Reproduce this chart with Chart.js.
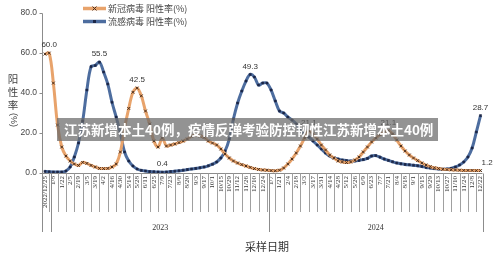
<!DOCTYPE html>
<html><head><meta charset="utf-8">
<script src="https://cdn.jsdelivr.net/npm/chart.js@4/dist/chart.umd.min.js"></script>
<style>html,body{margin:0;padding:0;background:#fff;}canvas{display:block;}</style>
</head><body>
<canvas id="c" width="500" height="260"></canvas>
<script>
// ---- data ----
const categories = ['2022/12/25','1/1','1/8','1/15','1/22','1/29','2/5','2/12','2/19','2/26','3/5','3/12','3/19','3/26','4/2','4/9','4/16','4/23','4/30','5/7','5/14','5/21','5/28','6/4','6/11','6/18','6/25','7/2','7/9','7/16','7/23','7/30','8/6','8/13','8/20','8/27','9/3','9/10','9/17','9/24','10/1','10/8','10/15','10/22','10/29','11/5','11/12','11/19','11/26','12/3','12/10','12/17','12/24','12/31','1/7','1/14','1/21','1/28','2/4','2/11','2/18','2/25','3/3','3/10','3/17','3/24','3/31','4/7','4/14','4/21','4/28','5/5','5/12','5/19','5/26','6/2','6/9','6/16','6/23','6/30','7/7','7/14','7/21','7/28','8/4','8/11','8/18','8/25','9/1','9/8','9/15','9/22','9/29','10/6','10/13','10/20','10/27','11/3','11/10','11/17','11/24','12/1','12/8','12/15','12/22'];
const yearNames = ['', '2023', '2024'];
const yearSpans = [2, 52, 51];
const covidRate = [59.5,60.0,45.0,24.0,13.0,8.5,6.0,4.5,3.8,5.3,4.8,3.8,3.0,2.3,2.2,2.3,3.0,4.5,10.5,22.5,32.3,40.4,42.5,38.6,31.0,24.5,16.0,13.0,17.5,13.5,14.0,14.5,15.2,16.0,17.0,18.4,19.0,18.5,17.8,16.0,15.0,14.0,12.0,9.5,7.5,6.0,5.0,4.2,3.5,2.8,2.2,1.8,1.5,1.4,1.2,1.1,1.4,2.5,4.5,7.0,10.0,13.5,17.5,21.1,19.5,17.0,14.0,11.5,9.0,7.5,6.0,5.5,5.2,5.5,6.5,8.0,10.5,13.0,15.5,17.5,19.2,20.5,21.1,19.5,16.5,13.5,11.0,9.0,7.5,6.2,5.0,4.0,3.2,2.6,2.2,1.9,1.7,1.6,1.5,1.4,1.3,1.3,1.3,1.2,1.2];
const fluRate = [0.8,0.6,0.5,0.5,0.5,1.0,3.0,8.0,15.0,26.0,41.5,53.2,53.8,55.5,50.5,44.5,35.4,28.0,20.0,10.5,6.0,3.5,2.0,1.3,1.0,0.7,0.6,0.5,0.4,0.5,0.7,0.9,1.1,1.4,1.7,2.0,2.3,2.6,3.0,3.6,4.4,5.5,7.5,11.0,17.0,27.0,35.0,41.0,46.0,49.3,48.0,44.0,45.0,45.0,41.5,36.0,31.0,30.0,28.0,26.5,24.5,21.0,19.5,18.0,16.0,14.0,12.0,10.0,8.5,7.5,7.0,6.5,6.2,6.0,6.0,6.3,6.7,7.3,8.5,8.7,7.9,7.0,6.3,5.6,5.0,4.6,4.3,4.1,3.9,3.6,3.3,2.8,2.5,2.2,2.0,1.9,2.0,2.3,3.0,4.0,5.5,8.0,12.5,20.5,28.7];
const yTicks = [0, 20, 40, 60, 80];
const seriesNames = ['新冠病毒 阳性率(%)', '流感病毒 阳性率(%)'];
// labelled points: [dataset, index, position]
const valueLabels = [[0,1,'top'],[1,13,'top'],[0,22,'top'],[1,28,'top'],[1,49,'top'],[0,63,'top'],[0,82,'top'],[1,104,'top'],[0,104,'right']];
const yTitle = ['阳','性','率'];
const xTitle = '采样日期';
const bannerText = '江苏新增本土40例，疫情反弹考验防控韧性江苏新增本土40例';

const ORANGE = '#e8a36b', BLUE = '#4d6d9f', OMARK = '#4a2e1c', BMARK = '#1c2747';

const overlay = {
  id: 'overlay',
  afterDatasetsDraw(chart) {
    const {ctx, scales: {x, y}} = chart;
    ctx.save();
    const ax = 42.5;
    const y0 = Math.round(y.getPixelForValue(0)) + 0.5;
    const yTop = Math.round(y.getPixelForValue(80)) + 0.5;
    ctx.strokeStyle = '#8c8c8c';
    ctx.lineWidth = 1;
    ctx.beginPath();
    ctx.moveTo(ax, yTop); ctx.lineTo(ax, 232);
    for (const v of yTicks) {
      const py = Math.round(y.getPixelForValue(v)) + 0.5;
      ctx.moveTo(ax - 3, py); ctx.lineTo(ax, py);
    }
    const xRight = x.getPixelForValue(categories.length - 1) + 2;
    ctx.moveTo(ax, y0); ctx.lineTo(xRight, y0);
    ctx.stroke();
    // label separators
    ctx.strokeStyle = '#a0a0a0';
    ctx.beginPath();
    for (let i = 1; i < categories.length; i += 2) {
      const px = Math.round(x.getPixelForValue(i)) + 0.5;
      ctx.moveTo(px, y0); ctx.lineTo(px, 212);
    }
    ctx.stroke();
    // year group separators + labels
    ctx.strokeStyle = '#8c8c8c';
    ctx.beginPath();
    let start = 0;
    const bounds = [];
    for (let g = 0; g < yearSpans.length; g++) {
      const end = start + yearSpans[g];
      const bx = end >= categories.length ? xRight : (x.getPixelForValue(end - 1) + x.getPixelForValue(end)) / 2;
      bounds.push(bx);
      const px = Math.round(bx) + 0.5;
      ctx.moveTo(px, y0); ctx.lineTo(px, 232);
      start = end;
    }
    ctx.stroke();
    ctx.fillStyle = '#333';
    ctx.font = '8px "Liberation Serif"';
    ctx.textAlign = 'center';
    ctx.textBaseline = 'middle';
    let left = ax;
    for (let g = 0; g < yearNames.length; g++) {
      if (yearNames[g]) ctx.fillText(yearNames[g], (left + bounds[g]) / 2, 228);
      left = bounds[g];
    }
    // value labels
    ctx.font = '8px "Liberation Sans"';
    ctx.fillStyle = '#333';
    for (const [d, i, pos] of valueLabels) {
      const pt = chart.getDatasetMeta(d).data[i];
      const val = chart.data.datasets[d].data[i].toFixed(1);
      if (pos === 'right') {
        ctx.textAlign = 'left'; ctx.textBaseline = 'bottom';
        ctx.fillText(val, pt.x + 1, pt.y - 4);
      } else {
        ctx.textAlign = 'center'; ctx.textBaseline = 'bottom';
        ctx.fillText(val, pt.x, pt.y - 4);
      }
    }
    ctx.restore();
  },
  afterDraw(chart) {
    const {ctx} = chart;
    ctx.save();
    // legend
    const legendY = [8.5, 21.5];
    const cols = [ORANGE, BLUE];
    for (let k = 0; k < 2; k++) {
      const ly = legendY[k];
      ctx.strokeStyle = cols[k]; ctx.lineWidth = 3.5;
      ctx.beginPath(); ctx.moveTo(83, ly); ctx.lineTo(106, ly); ctx.stroke();
      if (k === 0) {
        ctx.strokeStyle = OMARK; ctx.lineWidth = 1;
        ctx.beginPath(); ctx.moveTo(92.5, ly - 2); ctx.lineTo(96.5, ly + 2); ctx.moveTo(96.5, ly - 2); ctx.lineTo(92.5, ly + 2); ctx.stroke();
      } else {
        ctx.fillStyle = BMARK; ctx.fillRect(93, ly - 1.5, 3, 3);
      }
      ctx.fillStyle = '#444';
      ctx.font = '9px "Noto Sans CJK SC"';
      ctx.textAlign = 'left'; ctx.textBaseline = 'middle';
      ctx.fillText(seriesNames[k], 108, ly);
    }
    // y title
    ctx.fillStyle = '#444';
    ctx.font = '10.5px "Noto Sans CJK SC"';
    ctx.textAlign = 'center'; ctx.textBaseline = 'middle';
    yTitle.forEach((ch, k) => ctx.fillText(ch, 13, 79 + k * 13));
    ctx.save();
    ctx.translate(13, 120);
    ctx.rotate(Math.PI / 2);
    ctx.font = '9px "Liberation Sans"';
    ctx.fillText('(%)', 0, 0);
    ctx.restore();
    // x title
    ctx.font = '11px "Noto Sans CJK SC"';
    ctx.fillStyle = '#333';
    ctx.fillText(xTitle, 267, 247);
    // banner
    ctx.fillStyle = 'rgba(105,105,105,0.72)';
    ctx.fillRect(57, 118, 381, 23);
    ctx.fillStyle = '#ffffff';
    ctx.font = 'bold 13.5px "Noto Sans CJK SC"';
    ctx.textAlign = 'left'; ctx.textBaseline = 'middle';
    ctx.fillText(bannerText, 64, 130);
    ctx.restore();
  }
};

new Chart(document.getElementById('c'), {
  type: 'line',
  data: {
    labels: categories,
    datasets: [
      {label: seriesNames[0], data: covidRate, borderColor: ORANGE, borderWidth: 3, tension: 0.35,
       pointStyle: 'crossRot', pointRadius: 2, pointBorderColor: OMARK, pointBorderWidth: 1, pointBackgroundColor: OMARK},
      {label: seriesNames[1], data: fluRate, borderColor: BLUE, borderWidth: 3, tension: 0.35,
       pointStyle: 'rect', pointRadius: 1.5, pointBorderColor: BMARK, pointBorderWidth: 0.5, pointBackgroundColor: BMARK}
    ]
  },
  options: {
    responsive: false, animation: false,
    layout: {padding: {left: 0, right: 19.5, top: 8, bottom: 0}},
    plugins: {legend: {display: false}, tooltip: {enabled: false}},
    scales: {
      x: {type: 'category', offset: false,
          grid: {display: false, drawTicks: false}, border: {display: false},
          ticks: {autoSkip: false, minRotation: 90, maxRotation: 90, padding: 3,
                  font: {family: 'Liberation Serif', size: 7}, color: '#333',
                  callback: (v, i) => i % 2 === 0 ? categories[i] : ''},
          afterFit: s => { s.height = 87; }},
      y: {min: 0, max: 80,
          grid: {display: false, drawTicks: false}, border: {display: false},
          ticks: {stepSize: 20, padding: 8, callback: v => Number(v).toFixed(1),
                  font: {family: 'Liberation Sans', size: 8.5}, color: '#444'},
          afterFit: s => { s.width = 45; }}
    }
  },
  plugins: [overlay]
});
</script>
</body></html>
